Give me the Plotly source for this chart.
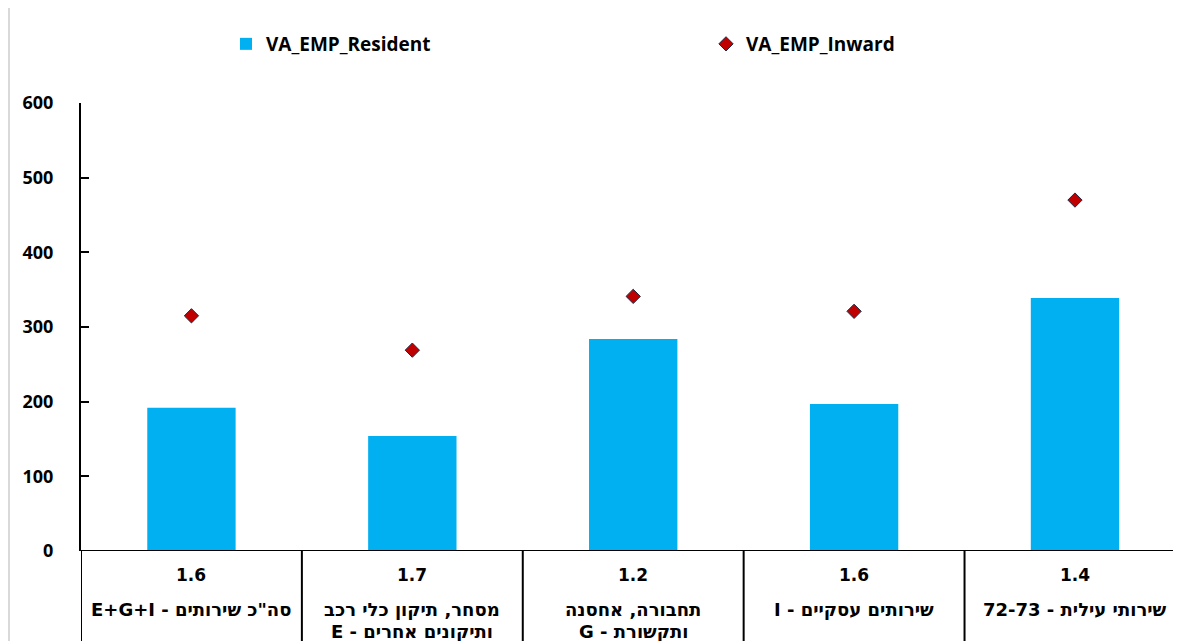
import plotly.graph_objects as go

# ---- data ----
categories = [
    "E+G+I - סה\"כ שירותים",
    "מסחר, תיקון כלי רכב<br>E - ותיקונים אחרים",
    "תחבורה, אחסנה<br>G - ותקשורת",
    "I - שירותים עסקיים",
    "72-73 - שירותי עילית",
]
ratios = ["1.6", "1.7", "1.2", "1.6", "1.4"]
va_emp_resident = [192, 154, 284, 197, 339]
va_emp_inward = [315, 269, 341, 321, 470]
y_ticks = [0, 100, 200, 300, 400, 500, 600]

# page has an 8px body margin; compensate so positions match the 1181x641 view
OFF = 8
W, H = 1181 - OFF, 641 - OFF
ML, MT, MB, MR = 81 - OFF, 103 - OFF, 90, 0
plot_h = H - MT - MB
plot_w = W - ML - MR

x_idx = list(range(len(categories)))

fig = go.Figure()
fig.add_trace(go.Bar(
    x=x_idx, y=va_emp_resident, name="VA_EMP_Resident",
    marker=dict(color="#00B0F0", line=dict(width=0)), width=0.4,
))
fig.add_trace(go.Scatter(
    x=x_idx, y=va_emp_inward, name="VA_EMP_Inward", mode="markers",
    marker=dict(symbol="diamond", size=11, color="#C00000",
                line=dict(color="#1F2A44", width=1)),
))

num_font = dict(family="DejaVu Sans", size=17, color="#000000")
label_font = dict(family="DejaVu Sans", size=18, color="#000000")
annotations = []
shapes = []
for i, (r, cat) in enumerate(zip(ratios, categories)):
    annotations.append(dict(x=i, y=0, xref="x", yref="paper", text="<b>%s</b>" % r,
                            showarrow=False, yanchor="middle", yshift=-24, font=num_font))
    for j, line in enumerate(cat.split("<br>")):
        annotations.append(dict(x=i, y=0, xref="x", yref="paper", text="<b>%s</b>" % line,
                                showarrow=False, yanchor="middle", yshift=-58 - 22 * j,
                                font=label_font))

bottom = -(MB + 5) / plot_h
for i in range(len(categories)):
    shapes.append(dict(type="line", xref="x", yref="paper", x0=i - 0.5, x1=i - 0.5,
                       y0=0, y1=bottom, line=dict(color="#000000", width=2)))

# light grey chart border on the left
bx = (1 - ML) / plot_w
shapes.append(dict(type="line", xref="paper", yref="paper", x0=bx, x1=bx,
                   y0=bottom, y1=(MT + 5) / plot_h + 1,
                   line=dict(color="#D9D9D9", width=2)))
shapes.append(dict(type="line", xref="paper", yref="y", x0=0, x1=1, y0=0, y1=0,
                   line=dict(color="#000000", width=2)))

fig.update_layout(
    width=W, height=H,
    margin=dict(l=ML, r=MR, t=MT, b=MB, autoexpand=False),
    paper_bgcolor="white", plot_bgcolor="white",
    showlegend=True,
    legend=dict(orientation="h", x=(218 - ML) / plot_w, xanchor="left",
                y=1 + (MT - 36) / plot_h, yanchor="middle",
                font=dict(family="Open Sans", size=19, color="#000000", weight="bold"),
                entrywidth=435, entrywidthmode="pixels", itemwidth=30,
                bgcolor="rgba(0,0,0,0)"),
    xaxis=dict(range=[-0.5, 4.48], showticklabels=False, ticks="",
               showgrid=False, zeroline=False, showline=False, fixedrange=True),
    yaxis=dict(range=[0, 600], tickvals=y_ticks, showgrid=False, zeroline=False,
               showline=True, linecolor="#000000", linewidth=2,
               ticks="inside", ticklen=8, tickwidth=2, tickcolor="#000000",
               ticklabelstandoff=22,
               tickfont=dict(family="Open Sans", size=18, color="#000000", weight="bold")),
    annotations=annotations,
    shapes=shapes,
)

fig.write_html("out.html")
